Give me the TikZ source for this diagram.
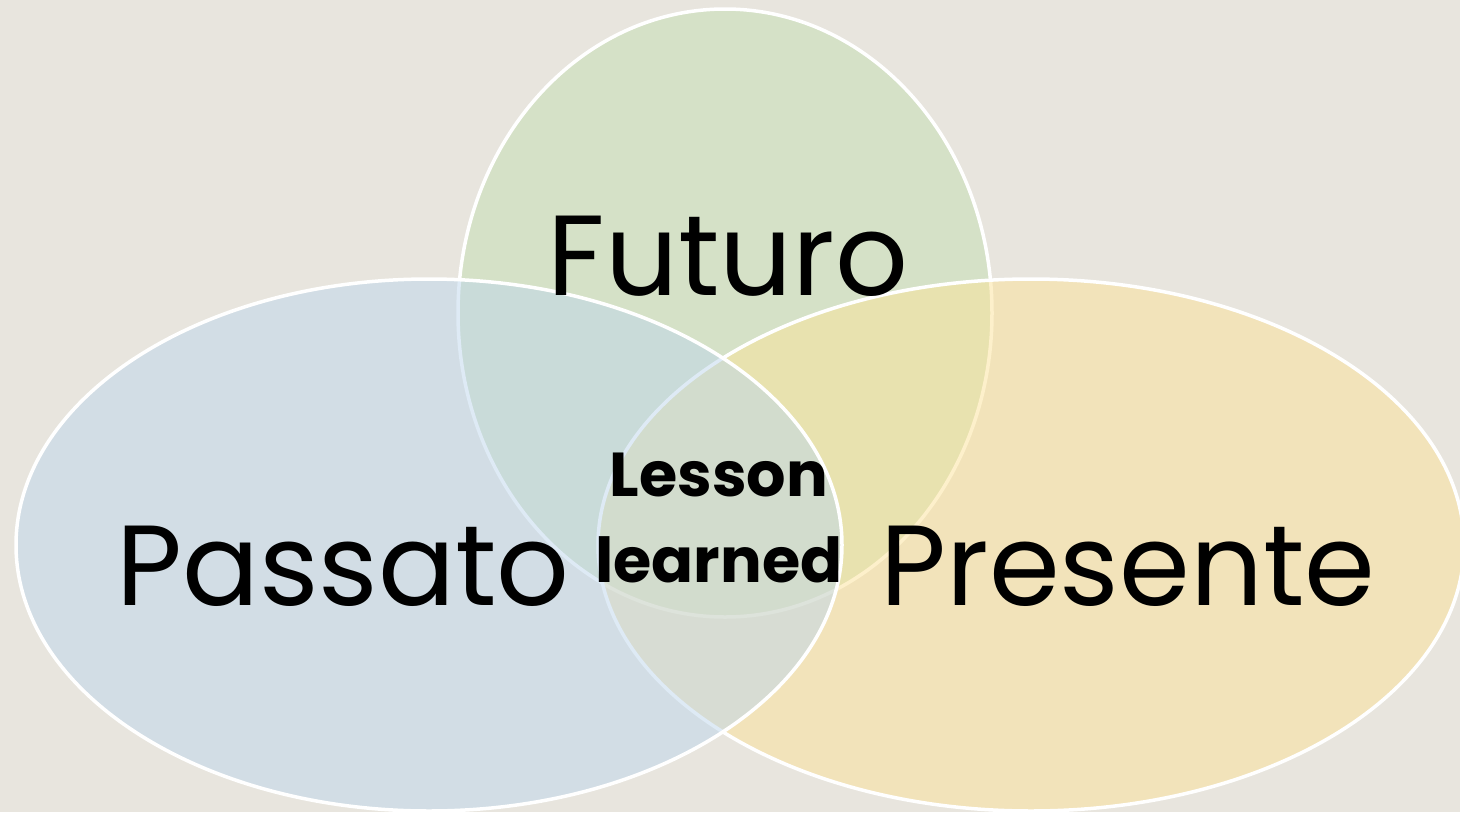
\documentclass[tikz,border=0pt]{standalone}
\usepackage{fontspec}
\setmainfont{Poppins}
\definecolor{bg}{RGB}{232,229,222}
\definecolor{cgreen}{RGB}{196,223,178}
\definecolor{cblue}{RGB}{190,215,236}
\definecolor{cyellow}{RGB}{252,227,152}
\begin{document}
\begin{tikzpicture}[x=1pt,y=-1pt,
  venn/.style={draw=white,line width=3.5pt,fill opacity=0.5,draw opacity=1},
  lbl/.style={inner sep=0pt,font=\fontsize{114}{114}\selectfont,anchor=base},
  mid/.style={inner sep=0pt,font=\bfseries\fontsize{62}{86}\selectfont,align=center}]
\fill[bg] (0,0) rectangle (1460,812);
\useasboundingbox (0,0) rectangle (1460,812);
\path[venn,fill=cgreen] (725,313) ellipse [x radius=267pt, y radius=304pt];
\path[venn,fill=cyellow] (1031,545) ellipse [x radius=433pt, y radius=266pt];
\path[venn,fill=cblue] (429,545) ellipse [x radius=413pt, y radius=266pt];
\node[lbl] (fut) at (728,295) {Futuro};
\node[lbl] (pas) at (343,605) {Passato};
\node[lbl] (pre) at (1128,605) {Presente};
\node[mid] (les) at (719,518) {Lesson\\learned};
\end{tikzpicture}
\end{document}
